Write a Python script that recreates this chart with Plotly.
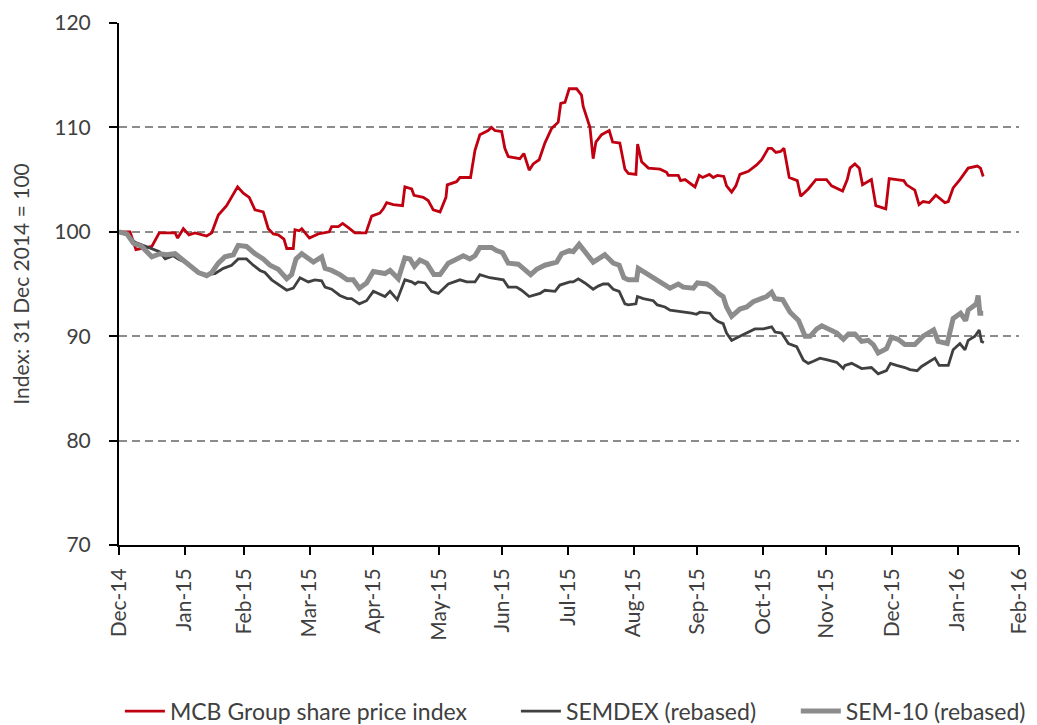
import pandas as pd
import plotly.graph_objects as go

BASE_DATE = "2014-12-31"

# Days elapsed since 31 Dec 2014 and index values
mcb_day = [0, 5.2, 8.0, 13.1, 15.5, 19.0, 26.5, 27.7, 30.4, 33.0, 35.9, 41.4, 43.8, 46.9, 50.8, 56.0, 58.7, 61.5, 64.2, 68.1,
           70.5, 72.9, 75.2, 77.9, 79.2, 82.3, 83.1, 85.1, 86.3, 89.9, 94.1, 99.3, 100.4, 103.6, 105.6, 108.3, 111.4, 116.6,
           119.3, 123.2, 124.8, 126.4, 129.5, 133.9, 135.0, 138.2, 139.3, 143.7, 146.0, 148.4, 151.6, 154.4, 155.0, 159.4,
           161.0, 166.0, 168.1, 170.4, 174.3, 175.9, 177.5, 180.7, 182.2, 183.8, 187.7, 189.3, 191.2, 193.7, 195.6, 198.4,
           201.1, 204.3, 207.4, 208.6, 210.6, 212.6, 216.1, 218.4, 219.2, 222.4, 223.9, 225.2, 227.9, 231.5, 233.1, 236.5,
           238.9, 240.5, 244.1, 244.9, 246.8, 250.0, 255.5, 258.6, 259.4, 264.1, 265.2, 267.3, 272.0, 274.0, 275.6, 278.8,
           280.6, 282.5, 285.6, 286.9, 289.3, 291.3, 293.2, 297.2, 301.1, 303.5, 306.6, 308.2, 310.2, 312.4, 314.0, 316.5,
           320.3, 321.9, 325.5, 329.1, 334.1, 336.5, 341.7, 343.9, 345.2, 347.5, 349.6, 351.1, 355.3, 357.4, 362.1, 363.7,
           367.2, 370.6, 371.9, 375.8, 377.8, 379.7, 382.6, 385.7, 390.0, 391.6, 393.9, 397.1, 401.0, 405.3, 406.8, 408.1]
mcb_val = [100.0, 100.0, 98.3, 98.5, 98.6, 99.9, 99.9, 99.4, 100.3, 99.7, 99.9, 99.6, 99.9, 101.6, 102.5, 104.3, 103.7, 103.3, 102.1, 101.9,
           100.3, 99.8, 99.7, 99.3, 98.4, 98.4, 100.2, 100.1, 100.3, 99.4, 99.8, 100.0, 100.5, 100.5, 100.8, 100.4, 99.9, 99.9,
           101.5, 101.8, 102.2, 102.8, 102.6, 102.5, 104.3, 104.1, 103.5, 103.3, 103.0, 102.1, 101.9, 103.3, 104.5, 104.8,
           105.2, 105.2, 107.8, 109.3, 109.7, 110.0, 109.7, 109.6, 108.0, 107.2, 107.1, 107.0, 107.5, 105.9, 106.5, 106.9,
           108.5, 109.9, 110.5, 112.3, 112.4, 113.7, 113.7, 113.1, 112.0, 110.0, 107.0, 108.6, 109.3, 109.7, 108.6, 108.5,
           106.0, 105.6, 105.5, 108.4, 106.7, 106.1, 106.0, 105.7, 105.4, 105.4, 104.9, 105.0, 104.3, 105.4, 105.2, 105.5,
           105.2, 105.4, 105.3, 104.4, 103.8, 104.4, 105.5, 105.8, 106.4, 106.9, 108.0, 108.0, 107.6, 107.7, 108.0, 105.2,
           104.9, 103.4, 104.1, 105.0, 105.0, 104.4, 103.9, 105.0, 106.1, 106.5, 106.1, 104.5, 105.0, 102.5, 102.2, 105.1,
           105.0, 104.9, 104.5, 104.0, 102.6, 102.9, 102.8, 103.5, 102.8, 102.9, 104.2, 105.0, 106.1, 106.3, 106.1, 105.3]

semdex_day = [0, 3.7, 7.6, 11.5, 15.5, 19.1, 21.8, 25.7, 28.0, 31.9, 36.7, 41.4, 45.3, 49.3, 53.2, 56.3, 60.2, 63.4, 66.6, 68.9,
              72.1, 75.2, 79.2, 82.3, 85.5, 89.4, 92.5, 95.7, 97.3, 100.4, 104.3, 107.8, 109.8, 113.5, 116.9, 120.1, 125.6,
              128.0, 131.4, 135.0, 138.2, 139.8, 141.3, 144.5, 147.6, 150.8, 155.5, 161.0, 164.2, 168.1, 170.4, 175.1, 181.5,
              183.8, 187.7, 190.1, 193.7, 198.8, 201.1, 205.9, 208.2, 212.9, 214.5, 216.9, 220.0, 223.9, 226.3, 228.7, 231.0,
              233.4, 236.2, 238.9, 240.5, 244.1, 244.8, 247.6, 252.3, 254.2, 257.8, 260.2, 264.1, 270.4, 272.7, 274.3, 279.0,
              280.9, 282.9, 285.3, 286.9, 289.3, 293.2, 296.4, 300.3, 304.3, 308.2, 309.8, 312.9, 316.1, 320.0, 323.2, 325.5,
              327.9, 331.0, 335.0, 338.9, 342.0, 342.8, 346.0, 350.7, 355.3, 358.5, 362.4, 364.3, 367.2, 371.1, 373.5, 376.9,
              379.0, 382.1, 385.3, 387.3, 391.6, 393.9, 397.1, 399.5, 401.0, 404.2, 406.2, 407.3, 408.4]
semdex_val = [100.0, 99.7, 99.0, 98.7, 98.4, 98.1, 97.4, 97.7, 97.4, 97.0, 96.2, 95.9, 96.0, 96.5, 96.8, 97.4, 97.4, 96.8, 96.3, 96.1,
              95.4, 95.0, 94.4, 94.6, 95.6, 95.2, 95.4, 95.3, 94.7, 94.5, 93.9, 93.6, 93.6, 93.1, 93.4, 94.3, 93.8,
              94.3, 93.5, 95.4, 95.2, 95.0, 95.2, 95.1, 94.3, 94.1, 95.0, 95.4, 95.2, 95.2, 95.9, 95.6, 95.4,
              94.7, 94.7, 94.4, 93.8, 94.1, 94.4, 94.3, 94.9, 95.2, 95.2, 95.5, 95.1, 94.5, 94.8, 95.0, 95.0,
              94.5, 94.3, 93.1, 93.0, 93.1, 93.8, 93.6, 93.4, 93.0, 92.8, 92.5, 92.4, 92.2, 92.1, 92.3, 92.2,
              91.7, 91.4, 91.2, 90.3, 89.6, 90.0, 90.3, 90.7, 90.7, 90.9, 90.4, 90.3, 89.3, 89.0, 87.7, 87.4,
              87.6, 87.9, 87.7, 87.5, 86.9, 87.2, 87.4, 86.9, 87.0, 86.4, 86.7, 87.4, 87.2, 87.0, 86.8, 86.7,
              87.1, 87.5, 87.9, 87.2, 87.2, 88.7, 89.3, 88.7, 89.6, 90.0, 90.6, 89.5, 89.4]

sem10_day = [0, 3.7, 6.8, 10.7, 15.5, 19.4, 22.5, 26.5, 29.6, 33.5, 37.5, 41.4, 43.8, 46.9, 50.0, 54.0, 56.3, 60.2, 64.2, 68.1,
             71.3, 75.2, 79.2, 81.5, 83.6, 86.3, 89.4, 91.8, 95.7, 97.3, 100.4, 104.3, 107.8, 110.6, 113.5, 116.9, 120.1,
             125.6, 128.0, 131.9, 135.0, 137.4, 139.5, 142.1, 145.3, 148.7, 151.6, 155.5, 158.6, 162.6, 165.7, 168.1, 170.4,
             175.9, 178.3, 181.1, 183.8, 188.5, 190.9, 194.4, 197.2, 201.1, 206.7, 209.0, 212.6, 214.5, 217.3, 220.0, 223.9,
             229.4, 231.8, 233.4, 236.2, 238.4, 240.5, 244.4, 245.2, 248.3, 250.7, 253.8, 257.0, 260.2, 264.1, 266.5, 271.2,
             273.1, 277.5, 280.6, 283.0, 285.3, 286.9, 289.3, 293.2, 296.4, 299.5, 302.7, 305.8, 308.2, 309.8, 313.4, 316.9,
             320.9, 324.0, 326.4, 329.5, 331.9, 335.8, 339.0, 342.1, 344.5, 347.5, 350.7, 353.8, 356.2, 358.5, 362.4, 364.8,
             367.9, 371.1, 375.8, 379.7, 384.7, 386.8, 391.1, 393.9, 397.4, 399.8, 401.0, 404.9, 405.7, 406.5, 408.1]
sem10_val = [100.0, 99.8, 98.9, 98.6, 97.6, 97.9, 97.8, 97.9, 97.4, 96.8, 96.1, 95.8, 96.1, 97.0, 97.6, 97.8, 98.7, 98.6, 97.9, 97.4,
             96.8, 96.4, 95.5, 95.9, 97.4, 97.9, 97.5, 97.1, 97.6, 96.5, 96.3, 95.9, 95.4, 95.4, 94.6, 95.1, 96.2,
             96.0, 96.3, 95.5, 97.5, 97.4, 96.7, 97.3, 97.0, 95.9, 95.9, 97.0, 97.3, 97.7, 97.4, 97.7, 98.5,
             98.5, 98.2, 98.0, 97.0, 96.9, 96.5, 95.9, 96.4, 96.8, 97.1, 97.9, 98.2, 98.1, 98.8, 98.1, 97.1,
             97.8, 97.4, 97.0, 96.8, 95.6, 95.4, 95.4, 96.5, 96.1, 95.9, 95.4, 95.1, 94.6, 95.0, 94.7, 94.6,
             95.1, 95.0, 94.6, 94.1, 93.8, 92.8, 91.9, 92.6, 92.8, 93.3, 93.5, 93.8, 94.2, 93.6, 93.5, 92.3,
             91.5, 90.0, 90.0, 90.7, 91.0, 90.6, 90.3, 89.7, 90.2, 90.2, 89.5, 89.6, 89.2, 88.4, 88.8, 89.9,
             89.7, 89.2, 89.2, 90.0, 90.6, 89.5, 89.3, 91.7, 92.2, 91.5, 92.5, 93.1, 93.9, 92.2, 92.2]

tick_dates = ["2014-12-31", "2015-01-31", "2015-02-28", "2015-03-31", "2015-04-30", "2015-05-31", "2015-06-30",
              "2015-07-31", "2015-08-31", "2015-09-30", "2015-10-31", "2015-11-30", "2015-12-31", "2016-01-31",
              "2016-02-29"]
tick_labels = ["Dec-14", "Jan-15", "Feb-15", "Mar-15", "Apr-15", "May-15", "Jun-15", "Jul-15", "Aug-15",
               "Sep-15", "Oct-15", "Nov-15", "Dec-15", "Jan-16", "Feb-16"]

series_names = ["MCB Group share price index", "SEMDEX (rebased)", "SEM-10 (rebased)"]
y_title = "Index: 31 Dec 2014 = 100"


def to_dates(days):
    return pd.Timestamp(BASE_DATE) + pd.to_timedelta(days, unit="D")


FONT = "Lato, 'Liberation Sans', sans-serif"
TXT = "#404040"

fig = go.Figure()
fig.add_trace(go.Scatter(x=to_dates(mcb_day), y=mcb_val, mode="lines", name=series_names[0],
                         line=dict(color="#C00010", width=2.8), legend="legend"))
fig.add_trace(go.Scatter(x=to_dates(semdex_day), y=semdex_val, mode="lines", name=series_names[1],
                         line=dict(color="#404040", width=2.8), legend="legend2"))
fig.add_trace(go.Scatter(x=to_dates(sem10_day), y=sem10_val, mode="lines", name=series_names[2],
                         line=dict(color="#8C8C8C", width=5), legend="legend3"))

leg_common = dict(orientation="h", y=-0.277, yanchor="top", xanchor="left",
                  font=dict(size=23, color=TXT), itemwidth=40, bgcolor="rgba(0,0,0,0)")

# The page body adds an 8px offset, so the figure is 8px smaller and margins are shifted.
fig.update_layout(
    width=1029, height=717,
    margin=dict(l=111, r=18, t=15, b=180, autoexpand=False),
    plot_bgcolor="white", paper_bgcolor="white",
    font=dict(family=FONT, size=21, color=TXT),
    showlegend=True,
    legend=dict(x=0.001, **leg_common),
    legend2=dict(x=0.441, **leg_common),
    legend3=dict(x=0.752, **leg_common),
    xaxis=dict(
        type="date", range=[tick_dates[0], tick_dates[-1]],
        tickmode="array", tickvals=tick_dates, ticktext=tick_labels,
        tickangle=-90, ticks="outside", ticklen=8, tickwidth=1.5, tickcolor="black",
        showline=True, linecolor="black", linewidth=2, showgrid=False, zeroline=False,
        tickfont=dict(size=21, color=TXT), ticklabelstandoff=5, automargin=False,
    ),
    yaxis=dict(
        range=[70, 120], tick0=70, dtick=10,
        ticks="outside", ticklen=8, tickwidth=1.5, tickcolor="black",
        showline=True, linecolor="black", linewidth=2,
        showgrid=True, gridcolor="#8C8C8C", gridwidth=1.5, griddash="8px,5px",
        zeroline=False, tickfont=dict(size=21, color=TXT), ticklabelstandoff=14,
        title=dict(text=y_title, font=dict(size=21, color=TXT), standoff=20), automargin=False,
    ),
)

fig.write_html("out.html")
